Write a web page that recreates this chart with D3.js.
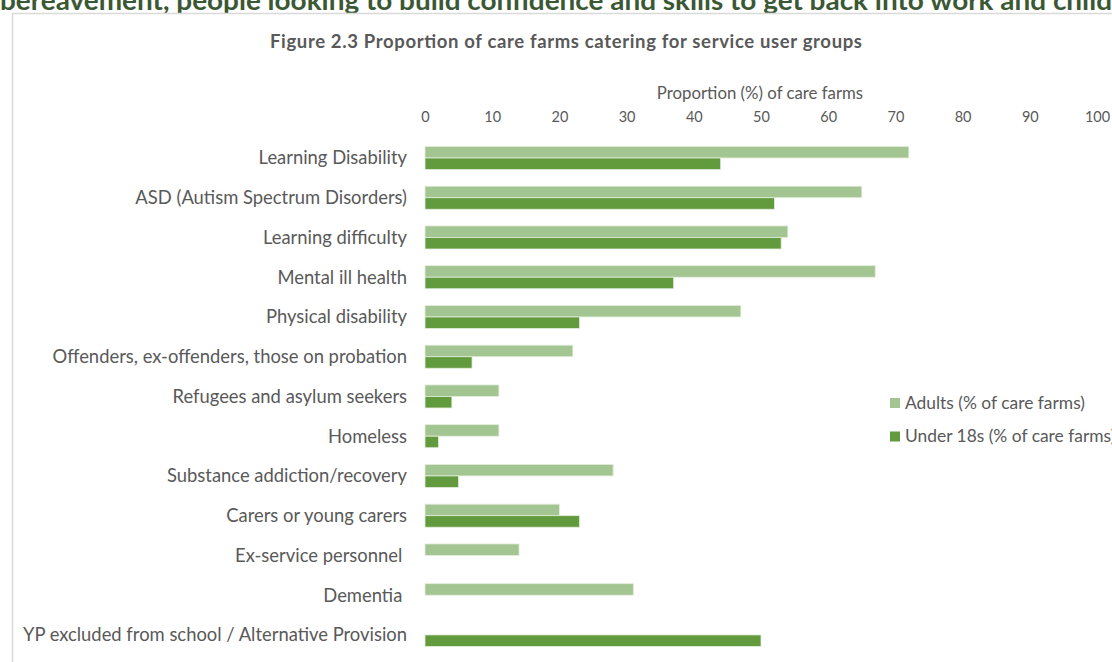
<!DOCTYPE html>
<html>
<head>
<meta charset="utf-8">
<script src="https://cdn.jsdelivr.net/npm/d3@7"></script>
<style>
  html, body { margin: 0; padding: 0; background: #fff; }
  svg { display: block; }
  text { font-family: Lato, "Open Sans", sans-serif; }
</style>
</head>
<body>
<svg id="chart" width="1112" height="662"></svg>
<script>
// Service user groups and the share of care farms catering for each
const categories = [
  "Learning Disability",
  "ASD (Autism Spectrum Disorders)",
  "Learning difficulty",
  "Mental ill health",
  "Physical disability",
  "Offenders, ex-offenders, those on probation",
  "Refugees and asylum seekers",
  "Homeless",
  "Substance addiction/recovery",
  "Carers or young carers",
  "Ex-service personnel ",
  "Dementia ",
  "YP excluded from school / Alternative Provision"
];
const adults =   [72, 65, 54, 67, 47, 22, 11, 11, 28, 20, 14, 31, null];
const under18s = [44, 52, 53, 37, 23,  7,  4,  2,  5, 23, null, null, 50];
const seriesNames = ["Adults (% of care farms)", "Under 18s (% of care farms)"];
const tickValues = [0, 10, 20, 30, 40, 50, 60, 70, 80, 90, 100];

const colors = ["#a3c592", "#629a3e"];
const textGray = "#595959";

const svg = d3.select("#chart");

// Running text of the page above the chart frame
svg.append("text")
  .attr("x", 0).attr("y", 9.5)
  .attr("textLength", 1112)
  .attr("lengthAdjust", "spacingAndGlyphs")
  .attr("font-size", 26).attr("font-weight", 700)
  .attr("fill", "#3b5834")
  .text("bereavement, people looking to build confidence and skills to get back into work and child");

// Chart frame
svg.append("path")
  .attr("d", "M12.5,662 V13.5 H1112")
  .attr("fill", "none").attr("stroke", "#d9d9d9").attr("stroke-width", 1.5);

svg.append("text")
  .attr("x", 566).attr("y", 48)
  .attr("text-anchor", "middle")
  .attr("font-size", 18.5).attr("font-weight", 700)
  .attr("textLength", 592).attr("lengthAdjust", "spacing")
  .attr("fill", textGray)
  .text("Figure 2.3 Proportion of care farms catering for service user groups");

const x = d3.scaleLinear().domain([0, 100]).range([425, 1097]);
const y = d3.scaleBand().domain(categories).range([138.1, 654.8])
  .paddingInner(0.42).paddingOuter(0.21);
const ySub = d3.scaleBand().domain([0, 1]).range([0, y.bandwidth()]);

// Top value axis, no line or ticks, only labels
const xAxis = svg.append("g")
  .attr("transform", "translate(0,122)")
  .call(d3.axisTop(x).tickValues(tickValues).tickSize(0).tickPadding(0));
xAxis.select(".domain").remove();
xAxis.selectAll("text")
  .attr("font-family", "Lato, 'Open Sans', sans-serif")
  .attr("font-size", 14.5).attr("fill", textGray);

svg.append("text")
  .attr("x", 760).attr("y", 99)
  .attr("text-anchor", "middle")
  .attr("font-size", 16.8).attr("fill", textGray)
  .text("Proportion (%) of care farms");

// Category axis on the left
const yAxis = svg.append("g")
  .attr("transform", "translate(407,0)")
  .call(d3.axisLeft(y).tickSize(0).tickPadding(0));
yAxis.select(".domain").remove();
yAxis.selectAll("text")
  .attr("font-family", "Lato, 'Open Sans', sans-serif")
  .attr("font-size", 18.4).attr("fill", textGray)
  .attr("dy", "0.35em")
  .style("white-space", "pre");

// Bars
const rows = categories.map((c, i) => ({ c, vals: [adults[i], under18s[i]] }));
const groups = svg.append("g").selectAll("g")
  .data(rows).join("g")
  .attr("transform", d => `translate(0,${y(d.c)})`);
groups.selectAll("rect")
  .data(d => d.vals.map((v, k) => ({ v, k })).filter(e => e.v != null))
  .join("rect")
  .attr("x", x(0))
  .attr("y", e => ySub(e.k))
  .attr("width", e => x(e.v) - x(0))
  .attr("height", ySub.bandwidth())
  .attr("fill", e => colors[e.k])
  .attr("stroke", "#e4eedd").attr("stroke-width", 0.8);

// Legend
const legend = svg.append("g").selectAll("g")
  .data(seriesNames).join("g")
  .attr("transform", (d, i) => `translate(890,${398 + i * 33.5})`);
legend.append("rect")
  .attr("width", 10).attr("height", 10)
  .attr("fill", (d, i) => colors[i]);
legend.append("text")
  .attr("x", 15).attr("y", 10.5)
  .attr("font-size", 17.4).attr("fill", textGray)
  .text(d => d);
</script>
</body>
</html>
